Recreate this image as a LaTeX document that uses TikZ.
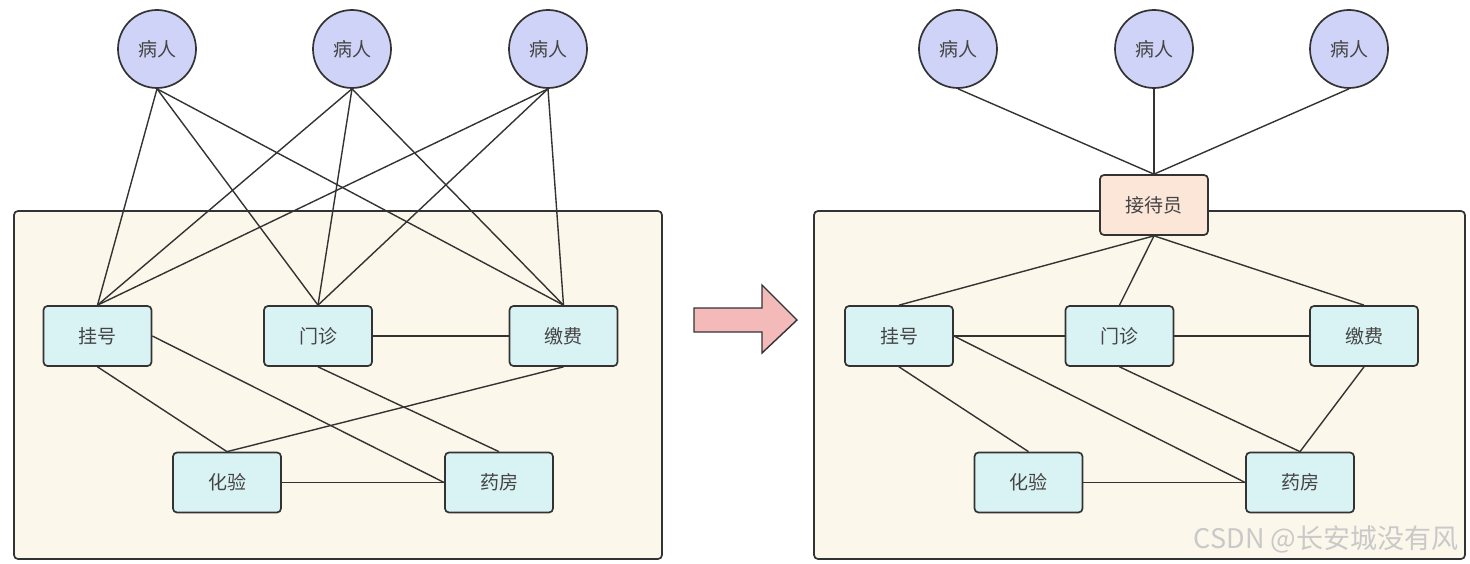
\documentclass[tikz,border=0pt]{standalone}
\usepackage{fontspec}
\setmainfont{Noto Sans CJK SC}
\usetikzlibrary{calc}
\definecolor{circfill}{HTML}{CFD3F7}
\definecolor{boxfill}{HTML}{D9F2F3}
\definecolor{framefill}{HTML}{FBF7EA}
\definecolor{recfill}{HTML}{FBE6D8}
\definecolor{arrowfill}{HTML}{F4B9B9}
\definecolor{edge}{HTML}{333333}
\definecolor{txt}{HTML}{444444}
\definecolor{wm}{HTML}{C9C9C9}
\tikzset{
  patient/.style={circle, draw=edge, line width=1.7pt, fill=circfill, minimum size=78pt, inner sep=0pt, text=txt, font=\fontsize{19}{22}\selectfont},
  dept/.style={rectangle, rounded corners=4pt, draw=edge, line width=1.7pt, fill=boxfill, minimum width=108pt, minimum height=60pt, inner sep=0pt, text=txt, font=\fontsize{19}{22}\selectfont},
  recbox/.style={dept, fill=recfill},
  frame/.style={rectangle, rounded corners=4pt, draw=edge, line width=1.7pt, fill=framefill, inner sep=0pt},
  link/.style={draw=edge, line width=1.4pt},
}
\begin{document}
\begin{tikzpicture}[x=1pt, y=-1pt]
\useasboundingbox (0,0) rectangle (1470,564);
% frames
\node[frame, minimum width=648pt, minimum height=348pt] (fl) at (338,385) {};
\node[frame, minimum width=651pt, minimum height=348pt] (fr) at (1139.5,385) {};
% big arrow
\draw[draw=edge, line width=1.4pt, fill=arrowfill] (694,308) -- (762,308) -- (762,285) -- (797,320) -- (762,353) -- (762,332) -- (694,332) -- cycle;
% left diagram
\node[patient] (p1) at (157,49) {病人};
\node[patient] (p2) at (352,49) {病人};
\node[patient] (p3) at (548,49) {病人};
\node[dept] (g1) at (97.5,336) {挂号};
\node[dept] (m1) at (318,336) {门诊};
\node[dept] (j1) at (563.5,336) {缴费};
\node[dept] (h1) at (227,482.5) {化验};
\node[dept] (y1) at (499,482.5) {药房};
\foreach \p in {p1,p2,p3}{
  \foreach \b in {g1,m1,j1}{
    \draw[link] (\p.south) -- (\b.north);
  }
}
\draw[link] (g1.south) -- (h1.north);
\draw[link] (g1.east) -- (y1.west);
\draw[link] (m1.east) -- (j1.west);
\draw[link] (m1.south) -- (y1.north);
\draw[link] (j1.south) -- (h1.north);
\draw[link] (h1.east) -- (y1.west);
% right diagram
\node[patient] (q1) at (958,49) {病人};
\node[patient] (q2) at (1154,49) {病人};
\node[patient] (q3) at (1349,49) {病人};
\node[dept] (g2) at (899,336) {挂号};
\node[dept] (m2) at (1119.5,336) {门诊};
\node[dept] (j2) at (1364,336) {缴费};
\node[dept] (h2) at (1028.5,482.5) {化验};
\node[dept] (y2) at (1300,482.5) {药房};
\node[recbox] (r) at (1154,205) {接待员};
\foreach \p in {q1,q2,q3}{
  \draw[link] (\p.south) -- (r.north);
}
\foreach \b in {g2,m2,j2}{
  \draw[link] (r.south) -- (\b.north);
}
\draw[link] (g2.east) -- (m2.west);
\draw[link] (m2.east) -- (j2.west);
\draw[link] (g2.south) -- (h2.north);
\draw[link] (g2.east) -- (y2.west);
\draw[link] (m2.south) -- (y2.north);
\draw[link] (j2.south) -- (y2.north);
\draw[link] (h2.east) -- (y2.west);
% watermark
\node[text=wm, font=\fontsize{27}{30}\selectfont, inner sep=0pt] (wmk) at (1326,539) {CSDN @长安城没有风};
\end{tikzpicture}
\end{document}
